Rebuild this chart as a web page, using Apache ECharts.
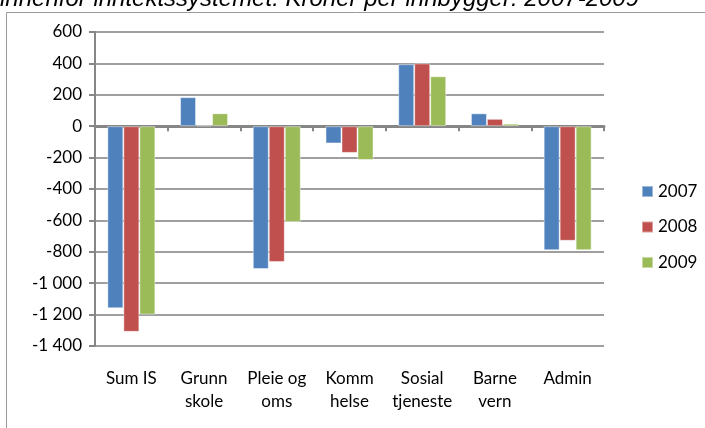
<!DOCTYPE html>
<html>
<head>
<meta charset="utf-8">
<script src="https://cdn.jsdelivr.net/npm/echarts@6/dist/echarts.min.js"></script>
<style>
  html, body { margin: 0; padding: 0; background: #fff; }
  #chart { width: 705px; height: 428px; }
</style>
</head>
<body>
<div id="chart"></div>
<script>
// kategorier og verdier (kroner per innbygger)
const categories = ['Sum IS', 'Grunn\nskole', 'Pleie og\noms', 'Komm\nhelse', 'Sosial\ntjeneste', 'Barne\nvern', 'Admin'];
const years = ['2007', '2008', '2009'];
const v2007 = [-1160, 185, -910, -110, 395, 82, -790];
const v2008 = [-1310, 5, -865, -170, 400, 47, -730];
const v2009 = [-1200, 82, -610, -215, 318, 16, -790];
const colors = ['#4F81BD', '#C0504D', '#9BBB59'];

const chart = echarts.init(document.getElementById('chart'));
const lblFont = 'Lato, "Open Sans", sans-serif';

// mellomrom som tusenskille, slik som i originalen
const fmt = v => {
  const s = String(Math.abs(v));
  const t = s.length > 3 ? s.slice(0, -3) + ' ' + s.slice(-3) : s;
  return (v < 0 ? '-' : '') + t;
};

const option = {
  animation: false,
  graphic: [
    {
      type: 'rect',
      shape: { x: 6.5, y: 12.5, width: 800, height: 500 },
      style: { fill: 'none', stroke: '#9a9a9a', lineWidth: 1 },
      silent: true
    },
    {
      type: 'text',
      x: 0, y: 11,
      style: {
        text: 'innenfor inntektssystemet. Kroner per innbygger: 2007-2009',
        font: 'italic 24px "Liberation Sans", Arial, sans-serif',
        fill: '#000',
        verticalAlign: 'bottom'
      }
    }
  ],
  legend: {
    orient: 'vertical',
    left: 636,
    top: 178,
    itemWidth: 11,
    itemHeight: 11,
    itemGap: 18.5,
    icon: 'rect',
    textStyle: { fontFamily: lblFont, fontSize: 17, color: '#000' },
    data: years
  },
  grid: { left: 95, right: 101, top: 32, bottom: 82 },
  xAxis: [
    {
      type: 'category',
      data: categories,
      position: 'bottom',
      axisLine: { show: false, onZero: false },
      axisTick: { show: false },
      axisLabel: {
        interval: 0,
        margin: 21,
        fontFamily: lblFont,
        fontSize: 17,
        lineHeight: 23,
        color: '#000'
      }
    },
    {
      type: 'category',
      data: categories,
      position: 'bottom',
      axisLine: { show: true, onZero: true, lineStyle: { color: '#868686', width: 3 } },
      axisTick: { show: true, length: 5, inside: false, lineStyle: { color: '#868686', width: 2 } },
      axisLabel: { show: false }
    }
  ],
  yAxis: {
    type: 'value',
    min: -1400,
    max: 600,
    interval: 200,
    axisLine: { show: true, lineStyle: { color: '#868686', width: 2 } },
    axisTick: { show: true, length: 6, lineStyle: { color: '#868686', width: 2 } },
    splitLine: { lineStyle: { color: '#7f7f7f', width: 1.5 } },
    axisLabel: {
      margin: 13,
      fontFamily: lblFont,
      fontSize: 17,
      color: '#000',
      formatter: fmt
    }
  },
  series: [v2007, v2008, v2009].map((d, i) => ({
    name: years[i],
    type: 'bar',
    data: d,
    barGap: '0%',
    barCategoryGap: '34%',
    itemStyle: {
      color: colors[i],
      borderColor: 'rgba(255,255,255,0.45)',
      borderWidth: 1
    }
  }))
};

chart.setOption(option);
</script>
</body>
</html>
